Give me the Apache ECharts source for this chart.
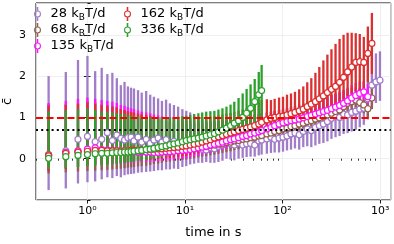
<!DOCTYPE html>
<html><head><meta charset="utf-8">
<script src="https://cdn.jsdelivr.net/npm/echarts@6/dist/echarts.min.js"></script>
<style>html,body{margin:0;padding:0;background:#fff}#c{width:394px;height:244px}</style>
</head><body><div id="c"></div>
<script>
// time points (s)
const times = [0.4,0.6,0.8,1.0,1.2,1.4,1.6,1.8,2.0,2.2,2.4,2.6,2.8,
  3.0,3.3,3.6,4.0,4.4,4.8,5.3,5.8,6.4,7.0,
  7.7,8.5,9.4,10.3,11.3,12.4,13.7,15,16.5,18.2,
  20,22,24.2,26.6,29.3,32,35.4,39,42.8,47,
  51.8,57,61,69,76,83,92,101,111,122,
  134,148,163,179,197,217,238,262,288,317,
  349,384,422,464,511,562,618,680,748,823,
  905,996];

// 28 kBT/d
const mean28 = [0.09,0.19,0.47,0.54,0.41,0.47,0.63,0.44,0.57,0.49,0.45,0.51,0.52,
  0.43,0.52,0.40,0.47,0.37,0.45,0.50,0.40,0.46,0.35,
  0.42,0.30,0.38,0.33,0.29,0.25,0.30,0.23,0.21,0.27,
  0.24,0.30,0.33,0.41,0.36,0.33,0.38,0.33,0.36,0.37,
  0.33,0.43,0.45,0.48,0.52,0.47,0.50,0.52,0.55,0.60,
  0.62,0.58,0.66,0.72,0.68,0.76,0.80,0.84,0.90,0.98,
  1.02,1.00,1.08,1.06,1.12,1.15,1.20,1.22,1.45,1.78,
  1.86,1.90];
const upper28 = [2.00,2.10,2.39,2.49,2.12,2.20,2.05,2.08,1.95,1.78,1.86,1.75,1.72,
  1.70,1.66,1.60,1.64,1.55,1.50,1.46,1.40,1.43,1.34,
  1.30,1.26,1.20,1.16,1.12,1.08,1.02,0.96,0.92,0.88,
  0.84,0.82,0.84,0.86,0.84,0.82,0.84,0.82,0.84,0.85,
  0.82,0.88,0.90,0.92,0.95,0.94,0.97,0.97,1.02,1.06,
  1.07,1.06,1.12,1.18,1.15,1.22,1.28,1.30,1.36,1.42,
  1.45,1.45,1.50,1.52,1.55,1.60,1.70,1.85,2.15,2.45,
  2.55,2.60];
const lower28 = [-0.76,-0.72,-0.60,-0.57,-0.55,-0.50,-0.45,-0.47,-0.42,-0.45,-0.40,-0.38,-0.37,
  -0.36,-0.34,-0.33,-0.32,-0.31,-0.30,-0.28,-0.28,-0.26,-0.26,
  -0.24,-0.25,-0.20,-0.18,-0.14,-0.12,-0.10,-0.10,-0.08,-0.10,
  -0.10,-0.08,-0.05,0.00,-0.02,-0.04,0.00,0.02,0.04,0.05,
  0.05,0.08,0.10,0.12,0.14,0.15,0.15,0.17,0.20,0.22,
  0.25,0.22,0.28,0.30,0.28,0.32,0.36,0.38,0.42,0.48,
  0.52,0.55,0.60,0.62,0.66,0.70,0.76,0.82,0.95,1.25,
  1.35,1.40];

// 68 kBT/d
const mean68 = [0.10,0.15,0.16,0.17,0.18,0.18,0.17,0.17,0.18,0.17,0.18,0.17,0.18,
  0.18,0.17,0.19,0.19,0.18,0.20,0.20,0.19,0.21,0.21,
  0.22,0.21,0.24,0.24,0.26,0.25,0.28,0.30,0.29,0.32,
  0.33,0.35,0.36,0.39,0.40,0.43,0.44,0.47,0.48,0.51,
  0.52,0.55,0.56,0.60,0.62,0.66,0.68,0.72,0.74,0.78,
  0.80,0.84,0.86,0.90,0.92,0.96,0.99,1.03,1.06,1.10,
  1.14,1.18,1.26,1.34,1.38,1.42,1.36,1.30,1.21,1.47];
const upper68 = [1.32,1.33,1.36,1.40,1.36,1.32,1.30,1.28,1.25,1.21,1.18,1.15,1.12,
  1.10,1.08,1.05,1.02,1.00,0.98,0.95,0.93,0.91,0.89,
  0.87,0.86,0.85,0.84,0.84,0.84,0.85,0.85,0.86,0.87,
  0.88,0.89,0.91,0.93,0.95,0.96,0.98,1.00,1.01,1.03,
  1.05,1.07,1.09,1.11,1.13,1.16,1.18,1.21,1.23,1.26,
  1.28,1.31,1.34,1.36,1.39,1.42,1.45,1.48,1.51,1.54,
  1.57,1.60,1.64,1.68,1.71,1.73,1.72,1.66,1.60,1.78];
const lower68 = [-0.36,-0.33,-0.31,-0.30,-0.29,-0.28,-0.27,-0.26,-0.25,-0.24,-0.23,-0.22,-0.21,
  -0.20,-0.19,-0.18,-0.17,-0.15,-0.13,-0.12,-0.10,-0.08,-0.07,
  -0.05,-0.04,-0.03,-0.02,0.00,0.01,0.03,0.05,0.06,0.08,
  0.10,0.12,0.14,0.16,0.18,0.21,0.23,0.26,0.28,0.31,
  0.33,0.36,0.38,0.42,0.45,0.48,0.51,0.55,0.58,0.62,
  0.65,0.69,0.72,0.76,0.79,0.83,0.86,0.90,0.93,0.97,
  1.00,1.04,1.10,1.16,1.20,1.24,1.20,1.10,1.00,1.20];

// 135 kBT/d
const mean135 = [0.07,0.15,0.19,0.23,0.26,0.22,0.21,0.20,0.19,0.19,0.18,0.18,0.17,
  0.17,0.16,0.17,0.16,0.16,0.15,0.15,0.16,0.17,0.17,
  0.18,0.19,0.20,0.21,0.22,0.24,0.26,0.28,0.30,0.33,
  0.35,0.37,0.40,0.43,0.46,0.48,0.51,0.54,0.56,0.60,
  0.62,0.65,0.68,0.72,0.76,0.80,0.84,0.87,0.90,0.92,
  0.94,0.96,0.99,1.02,1.05,1.08,1.11,1.14,1.17,1.21,
  1.25,1.29,1.34,1.40,1.47,1.53,1.58,1.62,1.50];
const upper135 = [1.35,1.40,1.45,1.48,1.45,1.42,1.40,1.38,1.35,1.30,1.28,1.25,1.22,
  1.20,1.17,1.14,1.12,1.10,1.07,1.05,1.02,1.00,0.98,
  0.96,0.95,0.93,0.92,0.91,0.90,0.90,0.90,0.90,0.91,
  0.92,0.92,0.94,0.95,0.97,0.98,1.00,1.02,1.03,1.05,
  1.07,1.09,1.10,1.12,1.14,1.16,1.18,1.20,1.22,1.24,
  1.26,1.28,1.31,1.34,1.37,1.40,1.43,1.46,1.50,1.54,
  1.58,1.62,1.67,1.72,1.78,1.83,1.87,1.88,1.82];
const lower135 = [-0.28,-0.22,-0.18,-0.15,-0.12,-0.13,-0.13,-0.12,-0.12,-0.11,-0.11,-0.10,-0.10,
  -0.09,-0.09,-0.08,-0.08,-0.07,-0.07,-0.06,-0.05,-0.04,-0.03,
  -0.02,-0.01,0.00,0.01,0.03,0.05,0.07,0.09,0.11,0.14,
  0.16,0.18,0.21,0.24,0.27,0.29,0.32,0.35,0.37,0.41,
  0.43,0.46,0.49,0.53,0.57,0.61,0.65,0.69,0.72,0.75,
  0.78,0.80,0.83,0.86,0.89,0.92,0.95,0.98,1.01,1.05,
  1.09,1.13,1.18,1.24,1.30,1.36,1.40,1.44,1.32];

// 162 kBT/d
const mean162 = [0.07,0.13,0.16,0.18,0.20,0.20,0.19,0.19,0.19,0.18,0.19,0.19,0.20,
  0.20,0.21,0.21,0.22,0.22,0.23,0.24,0.24,0.25,0.26,
  0.27,0.28,0.30,0.31,0.33,0.35,0.37,0.40,0.43,0.46,
  0.50,0.53,0.56,0.59,0.62,0.65,0.68,0.71,0.74,0.77,
  0.80,0.84,0.88,0.94,0.98,1.00,1.02,1.03,1.06,1.09,
  1.12,1.16,1.20,1.26,1.32,1.38,1.45,1.52,1.60,1.68,
  1.75,1.85,1.97,2.10,2.22,2.33,2.35,2.33,2.55,2.79];
const upper162 = [1.28,1.30,1.33,1.36,1.33,1.30,1.28,1.26,1.24,1.20,1.18,1.15,1.13,
  1.12,1.10,1.08,1.06,1.04,1.02,1.01,1.00,0.99,0.98,
  0.98,0.97,0.97,0.97,0.98,0.98,0.99,1.00,1.01,1.02,
  1.03,1.05,1.07,1.09,1.11,1.13,1.16,1.19,1.22,1.26,
  1.30,1.35,1.42,1.44,1.42,1.45,1.48,1.50,1.55,1.58,
  1.62,1.68,1.75,1.85,1.95,2.08,2.22,2.38,2.52,2.65,
  2.78,2.90,3.00,3.05,3.05,3.04,3.02,2.95,3.20,3.53];
const lower162 = [-0.30,-0.25,-0.20,-0.17,-0.15,-0.14,-0.13,-0.12,-0.11,-0.10,-0.09,-0.08,-0.07,
  -0.06,-0.05,-0.05,-0.04,-0.03,-0.02,-0.01,0.00,0.01,0.02,
  0.03,0.04,0.06,0.07,0.09,0.11,0.13,0.16,0.19,0.22,
  0.26,0.29,0.32,0.35,0.38,0.41,0.44,0.47,0.50,0.53,
  0.56,0.60,0.64,0.70,0.75,0.78,0.81,0.83,0.86,0.89,
  0.91,0.94,0.97,1.01,1.05,1.09,1.14,1.18,1.23,1.28,
  1.33,1.39,1.45,1.52,1.58,1.63,1.66,1.66,1.85,2.05];

// 336 kBT/d
const mean336 = [0.01,0.05,0.08,0.10,0.12,0.13,0.13,0.14,0.15,0.15,0.16,0.16,0.17,
  0.18,0.19,0.20,0.22,0.23,0.25,0.27,0.29,0.31,0.34,
  0.36,0.38,0.41,0.44,0.46,0.48,0.50,0.52,0.55,0.58,
  0.61,0.65,0.69,0.74,0.80,0.86,0.92,1.00,1.10,1.22,
  1.38,1.55,1.65];
const upper336 = [1.15,1.17,1.20,1.22,1.18,1.15,1.13,1.12,1.10,1.08,1.07,1.05,1.04,
  1.03,1.02,1.01,1.00,1.00,0.99,0.99,0.99,1.00,1.00,
  1.01,1.02,1.03,1.04,1.06,1.08,1.10,1.12,1.14,1.15,
  1.16,1.19,1.22,1.26,1.31,1.38,1.47,1.58,1.69,1.80,
  1.93,2.10,2.27];
const lower336 = [-0.25,-0.22,-0.20,-0.18,-0.17,-0.16,-0.15,-0.14,-0.12,-0.11,-0.10,-0.09,-0.08,
  -0.07,-0.06,-0.05,-0.03,-0.01,0.00,0.02,0.04,0.06,0.08,
  0.10,0.12,0.14,0.16,0.18,0.20,0.22,0.25,0.28,0.31,
  0.34,0.37,0.40,0.43,0.46,0.50,0.54,0.58,0.62,0.67,
  0.72,0.80,0.95];

const seriesLabels = ['28','68','135','162','336'];
const refLines = [1.0, 0.71];
const xRange = [0.297, 1283];
const yRange = [-1, 3.77];
const xMajorTicks = [1, 10, 100, 1000];
const xMinorTicks = [0.3,0.4,0.5,0.6,0.7,0.8,0.9,2,3,4,5,6,7,8,9,20,30,40,50,60,70,80,90,200,300,400,500,600,700,800,900];

const colors = {'28':'#a07cc9','68':'#94604f','135':'#ff14ff','162':'#dc2f2f','336':'#2ca02c'};
const sets = [
  {name:seriesLabels[0], mean:mean28, up:upper28, lo:lower28},
  {name:seriesLabels[1], mean:mean68, up:upper68, lo:lower68},
  {name:seriesLabels[2], mean:mean135, up:upper135, lo:lower135},
  {name:seriesLabels[3], mean:mean162, up:upper162, lo:lower162},
  {name:seriesLabels[4], mean:mean336, up:upper336, lo:lower336}
];
const FONT = 'DejaVu Sans';
const sup = {'0':'\u2070','1':'\u00b9','2':'\u00b2','3':'\u00b3','-':'\u207b'};
const toSup = s => String(s).split('').map(c => sup[c] || c).join('');

const series = [];
sets.forEach(s => {
  const rows = s.mean.map((m, i) => [times[i], m, s.lo[i], s.up[i]]);
  const col = colors[s.name];
  series.push({
    type:'custom', name:s.name, xAxisIndex:0, yAxisIndex:0, z:2, silent:true,
    data: rows, encode:{x:0, y:[2,3]},
    renderItem: (params, api) => {
      const t = api.value(0);
      const p1 = api.coord([t, api.value(2)]);
      const p2 = api.coord([t, api.value(3)]);
      return {type:'line', shape:{x1:p1[0], y1:p1[1], x2:p2[0], y2:p2[1]},
        style:{stroke:col, lineWidth:2.3}};
    }
  });
});
sets.forEach(s => {
  const col = colors[s.name];
  series.push({
    type:'scatter', name:s.name, xAxisIndex:0, yAxisIndex:0, z:3, silent:true,
    data: s.mean.map((m, i) => [times[i], m]),
    symbol:'circle', symbolSize:6,
    itemStyle:{color:'#fff', borderColor:col, borderWidth:1.2, opacity:1}
  });
});
series.push({
  type:'scatter', xAxisIndex:0, yAxisIndex:0, z:5, silent:true, data:[],
  markLine:{silent:true, symbol:'none', animation:false, label:{show:false},
    data:[
      {yAxis:refLines[0], lineStyle:{color:'#ff0000', width:2, type:[7,3.5], cap:'butt'}},
      {yAxis:refLines[1], lineStyle:{color:'#000000', width:2, type:[2,3.2], cap:'butt'}}
    ]}
});

const icon = 'path://M3.1,0L4.9,0L4.9,4.2L3.1,4.2Z M3.1,11.8L4.9,11.8L4.9,16L3.1,16Z M0,8A4,4 0 1,1 8,8A4,4 0 1,1 0,8Z M1.2,8A2.8,2.8 0 1,0 6.8,8A2.8,2.8 0 1,0 1.2,8Z';
const legendItems = names => names.map(n => ({name:n, icon:icon, itemStyle:{color:colors[n], borderWidth:0}}));
const legendBase = {
  orient:'vertical', top:7, itemWidth:16, itemHeight:14, itemGap:1, padding:0,
  selectedMode:false, symbolKeepAspect:true,
  formatter: n => '{a|' + n + ' k}{b|B}{a|T/d}',
  textStyle:{color:'#000', fontFamily:FONT, fontSize:13,
    rich:{a:{fontFamily:FONT, fontSize:13, lineHeight:16, color:'#000'},
          b:{fontFamily:FONT, fontSize:9, lineHeight:9, verticalAlign:'bottom', color:'#000'}}}
};

const option = {
  animation:false,
  backgroundColor:'#fff',
  grid:{left:36, right:3.3, top:3, bottom:44, show:true, borderColor:'#000', borderWidth:1,
        containLabel:false, outerBoundsMode:'none'},
  legend:[
    Object.assign({}, legendBase, {left:34, data:legendItems([seriesLabels[0], seriesLabels[1], seriesLabels[2]])}),
    Object.assign({}, legendBase, {left:124, data:legendItems([seriesLabels[3], seriesLabels[4]])})
  ],
  xAxis:[
    {type:'log', logBase:10, min:xRange[0], max:xRange[1], position:'bottom',
     name:'time in s', nameLocation:'middle', nameGap:26,
     nameTextStyle:{fontFamily:FONT, fontSize:13, color:'#000'},
     axisLine:{show:false}, axisTick:{show:false},
     axisLabel:{show:true, margin:6, showMinLabel:false, showMaxLabel:false, fontFamily:FONT, fontSize:11, color:'#000',
       formatter: v => '10' + toSup(Math.round(Math.log10(v)))},
     splitLine:{show:true, lineStyle:{color:'#ebebeb', width:0.8}},
     minorTick:{show:false}, minorSplitLine:{show:false}},
    {type:'value', min:Math.log10(xRange[0]), max:Math.log10(xRange[1]), position:'bottom',
     axisLine:{show:false}, axisLabel:{show:false}, splitLine:{show:false},
     axisTick:{show:true, length:2, lineStyle:{color:'#000', width:0.8},
       customValues: xMinorTicks.map(v => Math.log10(v))}},
    {type:'value', min:Math.log10(xRange[0]), max:Math.log10(xRange[1]), position:'bottom',
     axisLine:{show:false}, axisLabel:{show:false}, splitLine:{show:false},
     axisTick:{show:true, length:3.5, lineStyle:{color:'#000', width:0.9},
       customValues: xMajorTicks.map(v => Math.log10(v))}}
  ],
  yAxis:[
    {type:'value', min:yRange[0], max:yRange[1], interval:1, position:'left',
     name:'c\u0304', nameLocation:'middle', nameGap:22, nameRotate:90, nameMoveOverlap:false,
     nameTextStyle:{fontFamily:FONT, fontSize:13, color:'#000'},
     axisLine:{show:false},
     axisTick:{show:true, length:3.5, lineStyle:{color:'#000', width:0.9}},
     axisLabel:{margin:10, showMinLabel:false, showMaxLabel:false, fontFamily:FONT, fontSize:11, color:'#000'},
     splitLine:{show:true, lineStyle:{color:'#ebebeb', width:0.8}}},
    {type:'value', min:yRange[0], max:yRange[1], interval:1, position:'right',
     axisLine:{show:false}, axisLabel:{show:false}, splitLine:{show:false},
     axisTick:{show:true, length:3, lineStyle:{color:'#000', width:0.9}}}
  ],
  series: series
};
const chart = echarts.init(document.getElementById('c'), null, {renderer:'canvas', width:394, height:244});
chart.setOption(option);
</script>
</body></html>
